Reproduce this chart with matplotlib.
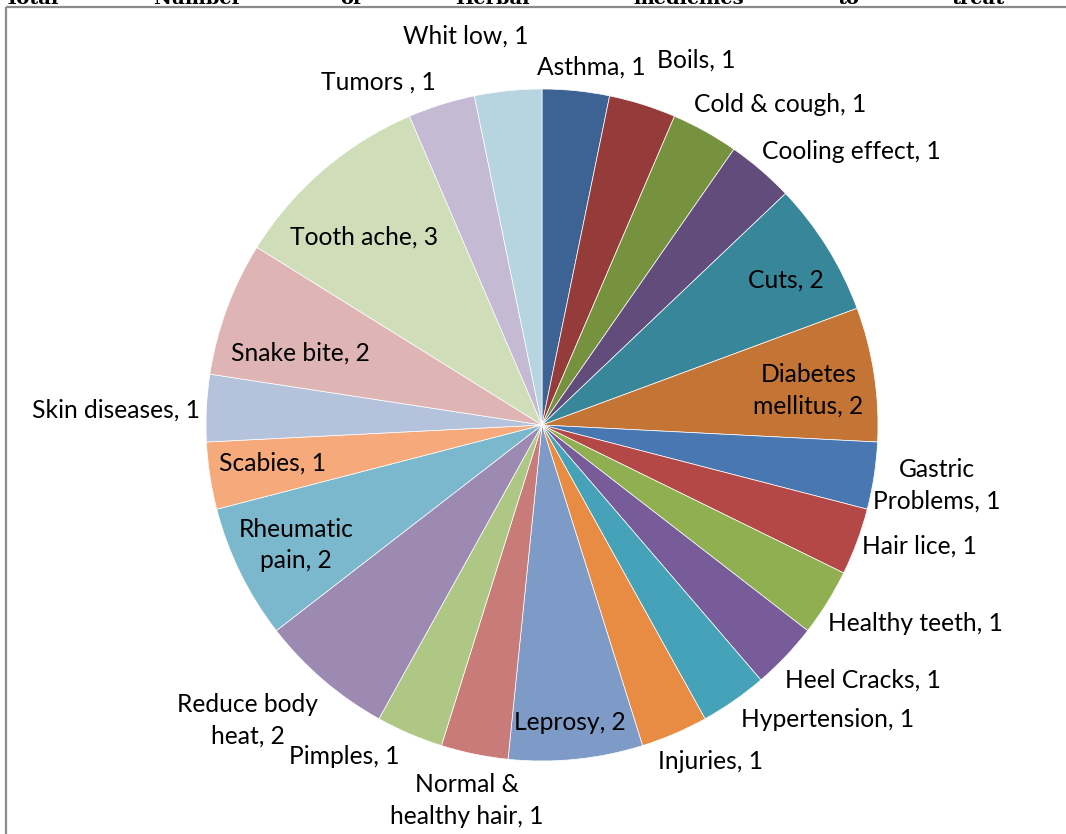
import numpy as np
import matplotlib
matplotlib.use("Agg")
import matplotlib.pyplot as plt

categories = ["Asthma", "Boils", "Cold & cough", "Cooling effect", "Cuts",
              "Diabetes\nmellitus", "Gastric\nProblems", "Hair lice", "Healthy teeth",
              "Heel Cracks", "Hypertension", "Injuries", "Leprosy",
              "Normal &\nhealthy hair", "Pimples", "Reduce body\nheat",
              "Rheumatic\npain", "Scabies", "Skin diseases", "Snake bite",
              "Tooth ache", "Tumors ", "Whit low"]
values = [1, 1, 1, 1, 2, 2, 1, 1, 1, 1, 1, 1, 2, 1, 1, 2, 2, 1, 1, 2, 3, 1, 1]

colors = ["#3C6393", "#953B3A", "#77923F", "#624C7C", "#37869A", "#C47535",
          "#4877B1", "#B34846", "#8FAF51", "#775C99", "#46A2B9", "#E88C43",
          "#7E9BC8", "#C97B7A", "#AEC785", "#9C8AB2", "#7BB8CE", "#F6A97A",
          "#B4C2DC", "#DEB5B4", "#CFDDB9", "#C4BAD3", "#B6D5E1"]

# label layout: (angle offset from wedge middle in degrees, radius factor)
label_layout = [(2.0, 1.075), (5.5, 1.18), (7.6, 1.19), (7.9, 1.23), (1.2, 0.845),
                (1.2, 0.80), (0.0, 1.19), (-2.5, 1.18), (-3.9, 1.26), (-5.1, 1.22),
                (-9.3, 1.22), (-3.4, 1.12), (0.4, 0.89), (-0.3, 1.14), (7.6, 1.15),
                (4.3, 1.24), (0.1, 0.815), (0.7, 0.81), (-0.9, 1.27), (-3.7, 0.75),
                (-2.7, 0.77), (-8.1, 1.13), (-5.3, 1.18)]

title_words = ["Total", "Number", "of", "Herbal", "medicines", "to", "treat"]
title_x = [5, 153, 340, 455, 633, 838, 951]

W, H = 1066, 834
fig = plt.figure(figsize=(W / 100, H / 100), dpi=100)
ax = fig.add_axes([0, 0, 1, 1])

cx, cy, R = 542, H - 425, 336
ax.pie(values, colors=colors, startangle=90, counterclock=False,
       center=(cx, cy), radius=R, frame=True,
       wedgeprops=dict(edgecolor="white", linewidth=0.5))
ax.set_xlim(0, W)
ax.set_ylim(0, H)
ax.set_aspect("equal")
ax.axis("off")

total = sum(values)
cum = np.cumsum([0] + values)
for i, (cat, v) in enumerate(zip(categories, values)):
    mid = (cum[i] + v / 2) / total * 360
    off, rf = label_layout[i]
    a = np.deg2rad(mid + off)
    x = cx + rf * R * np.sin(a)
    y = cy + rf * R * np.cos(a)
    ax.text(x, y, f"{cat}, {v}", ha="center", va="center", fontsize=17.7,
            family="Lato", color="black", linespacing=1.45)

# frame lines
ax.plot([6, W], [H - 7, H - 7], color="#8c8c8c", lw=1.6, solid_capstyle="butt")
ax.plot([6, 6], [H - 7, 0], color="#8c8c8c", lw=1.6, solid_capstyle="butt")

for w, x in zip(title_words, title_x):
    ax.text(x, H - 3.5, w, ha="left", va="baseline", fontsize=14,
            family="DejaVu Serif", fontweight="bold", color="black")

fig.savefig("out.png", dpi=100)
